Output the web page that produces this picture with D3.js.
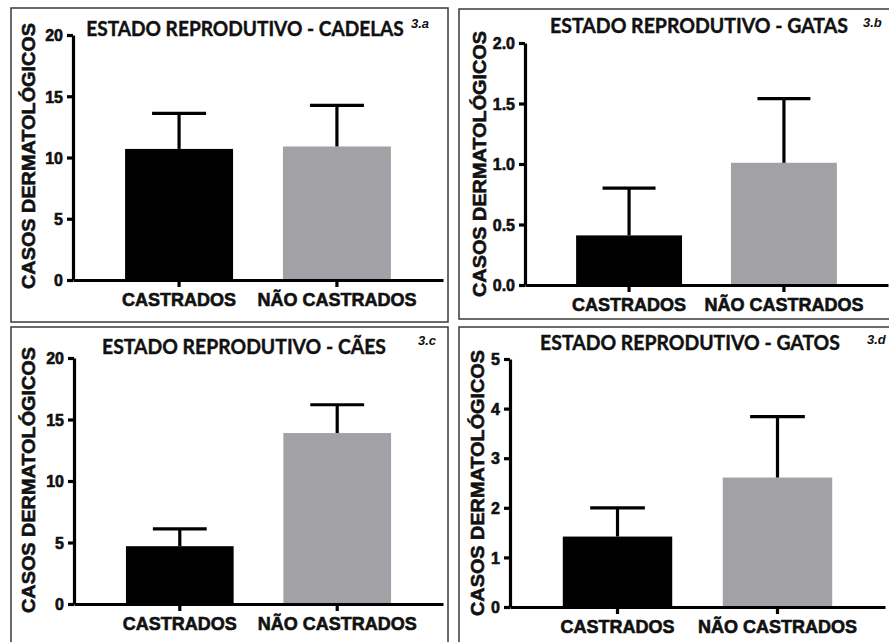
<!DOCTYPE html>
<html>
<head>
<meta charset="utf-8">
<script src="https://cdn.jsdelivr.net/npm/d3@7"></script>
<style>
  body { margin: 0; background: #fff; }
  svg { display: block; }
</style>
</head>
<body>
<div id="chart"></div>
<script>
// data
const categories = ["CASTRADOS", "NÃO CASTRADOS"];
const panelTags = ["3.a", "3.b", "3.c", "3.d"];
const titles = [
  "ESTADO REPRODUTIVO - CADELAS",
  "ESTADO REPRODUTIVO - GATAS",
  "ESTADO REPRODUTIVO - CÃES",
  "ESTADO REPRODUTIVO - GATOS"
];
const yLabel = "CASOS DERMATOLÓGICOS";
const yMax = [20, 2, 20, 5];
const yTicks = [[0, 5, 10, 15, 20], [0, 0.5, 1, 1.5, 2], [0, 5, 10, 15, 20], [0, 1, 2, 3, 4, 5]];
const yFormats = ["d", ".1f", "d", "d"];
const cadelasMean = [10.7, 10.9];
const cadelasSem  = [2.9, 3.35];
const gatasMean   = [0.41, 1.01];
const gatasSem    = [0.39, 0.53];
const caesMean    = [4.7, 13.9];
const caesSem     = [1.4, 2.3];
const gatosMean   = [1.42, 2.61];
const gatosSem    = [0.58, 1.23];
const means = [cadelasMean, gatasMean, caesMean, gatosMean];
const sems  = [cadelasSem, gatasSem, caesSem, gatosSem];
const barColors = ["#000000", "#a2a2a6"];

// layout of the 4 panels
const layout = [
  { box: [11, 8, 437, 314],  x0: 73,  x1: 443, yTop: 35,  yBot: 280, title: [245, 36],  titleW: 318, tag: [411, 28],  ylab: [28, 156] },
  { box: [459, 9, 440, 310], x0: 525, x1: 888, yTop: 43,  yBot: 285, title: [699, 33],  titleW: 298, tag: [863, 27],  ylab: [479, 164] },
  { box: [11, 327, 437, 330], x0: 74, x1: 443, yTop: 358, yBot: 604, title: [244, 354], titleW: 284, tag: [418, 345], ylab: [28, 480] },
  { box: [459, 327, 440, 330], x0: 510, x1: 885, yTop: 359, yBot: 607, title: [690, 350], titleW: 300, tag: [867, 344], ylab: [477, 483] }
];

const width = 889, height = 642;
const svg = d3.select("#chart").append("svg")
  .attr("width", width)
  .attr("height", height);

svg.append("rect").attr("width", width).attr("height", height).attr("fill", "#fff");

const arial = "'Liberation Sans', Arial, sans-serif";

// heavy text, the figure's labels are very bold
function heavy(sel, size) {
  sel.style("font-family", arial)
    .style("font-weight", "bold")
    .style("font-size", size + "px")
    .style("fill", "#111")
    .style("stroke", "#111")
    .style("stroke-width", "0.6px");
}

layout.forEach(function(L, i) {
  let g = svg.append("g");

  g.append("rect")
    .attr("x", L.box[0]).attr("y", L.box[1])
    .attr("width", L.box[2]).attr("height", L.box[3])
    .attr("fill", "none")
    .attr("stroke", "#3a3a3a")
    .attr("stroke-width", 1.5);

  let x = d3.scaleBand()
    .domain(categories)
    .range([L.x0, L.x1])
    .paddingInner(0.316)
    .paddingOuter(0.33);

  let y = d3.scaleLinear()
    .domain([0, yMax[i]])
    .range([L.yBot, L.yTop]);

  let rows = categories.map(function(c, j) { return { cat: c, mean: means[i][j], sem: sems[i][j], color: barColors[j] }; });

  // bars
  g.selectAll(".bar").data(rows).enter().append("rect")
    .attr("class", "bar")
    .attr("x", d => x(d.cat))
    .attr("y", d => y(d.mean))
    .attr("width", x.bandwidth())
    .attr("height", d => y(0) - y(d.mean))
    .attr("fill", d => d.color);

  // error bars (upper only)
  let capW = x.bandwidth() / 2;
  let eb = g.selectAll(".err").data(rows).enter().append("g")
    .attr("class", "err")
    .style("stroke", "#000")
    .style("stroke-width", "3.2px");
  eb.append("line")
    .attr("x1", d => x(d.cat) + x.bandwidth() / 2)
    .attr("x2", d => x(d.cat) + x.bandwidth() / 2)
    .attr("y1", d => y(d.mean))
    .attr("y2", d => y(d.mean + d.sem));
  eb.append("line")
    .attr("x1", d => x(d.cat) + x.bandwidth() / 2 - capW / 2)
    .attr("x2", d => x(d.cat) + x.bandwidth() / 2 + capW / 2)
    .attr("y1", d => y(d.mean + d.sem))
    .attr("y2", d => y(d.mean + d.sem));

  // axes
  let yAxis = g.append("g")
    .attr("transform", "translate(" + L.x0 + ",0)")
    .call(d3.axisLeft(y).tickValues(yTicks[i]).tickFormat(d3.format(yFormats[i])).tickSize(6).tickSizeOuter(0).tickPadding(4));

  let xAxis = g.append("g")
    .attr("transform", "translate(0," + L.yBot + ")")
    .call(d3.axisBottom(x).tickSize(7).tickSizeOuter(0).tickPadding(3));

  [yAxis, xAxis].forEach(function(a) {
    a.select(".domain").style("stroke", "#000").style("stroke-width", "3.2px");
    a.selectAll(".tick line").style("stroke", "#000").style("stroke-width", "3.2px");
  });
  heavy(yAxis.selectAll("text").attr("dy", "0.36em"), 16);
  heavy(xAxis.selectAll("text").attr("dy", "0.9em"), 18);

  // y label
  heavy(g.append("text")
    .attr("transform", "translate(" + L.ylab[0] + "," + L.ylab[1] + ") rotate(-90)")
    .attr("text-anchor", "middle")
    .attr("dy", "0.36em")
    .attr("textLength", 266)
    .attr("lengthAdjust", "spacingAndGlyphs")
    .text(yLabel), 19);

  // title, squeezed horizontally to the width seen in the figure
  let t = g.append("text")
    .attr("text-anchor", "middle")
    .style("font-family", "Lato, 'Open Sans', sans-serif")
    .style("font-weight", "bold")
    .style("font-size", "20px")
    .style("fill", "#111")
    .style("stroke", "#111")
    .style("stroke-width", "0.4px")
    .text(titles[i]);
  let natural = t.node().getComputedTextLength();
  t.attr("transform", "translate(" + L.title[0] + "," + L.title[1] + ") scale(" + (L.titleW / natural) + ",1)");

  // panel tag
  g.append("text")
    .attr("x", L.tag[0]).attr("y", L.tag[1])
    .style("font-family", arial)
    .style("font-weight", "bold")
    .style("font-style", "italic")
    .style("font-size", "13px")
    .style("fill", "#111")
    .text(panelTags[i]);
});
</script>
</body>
</html>
